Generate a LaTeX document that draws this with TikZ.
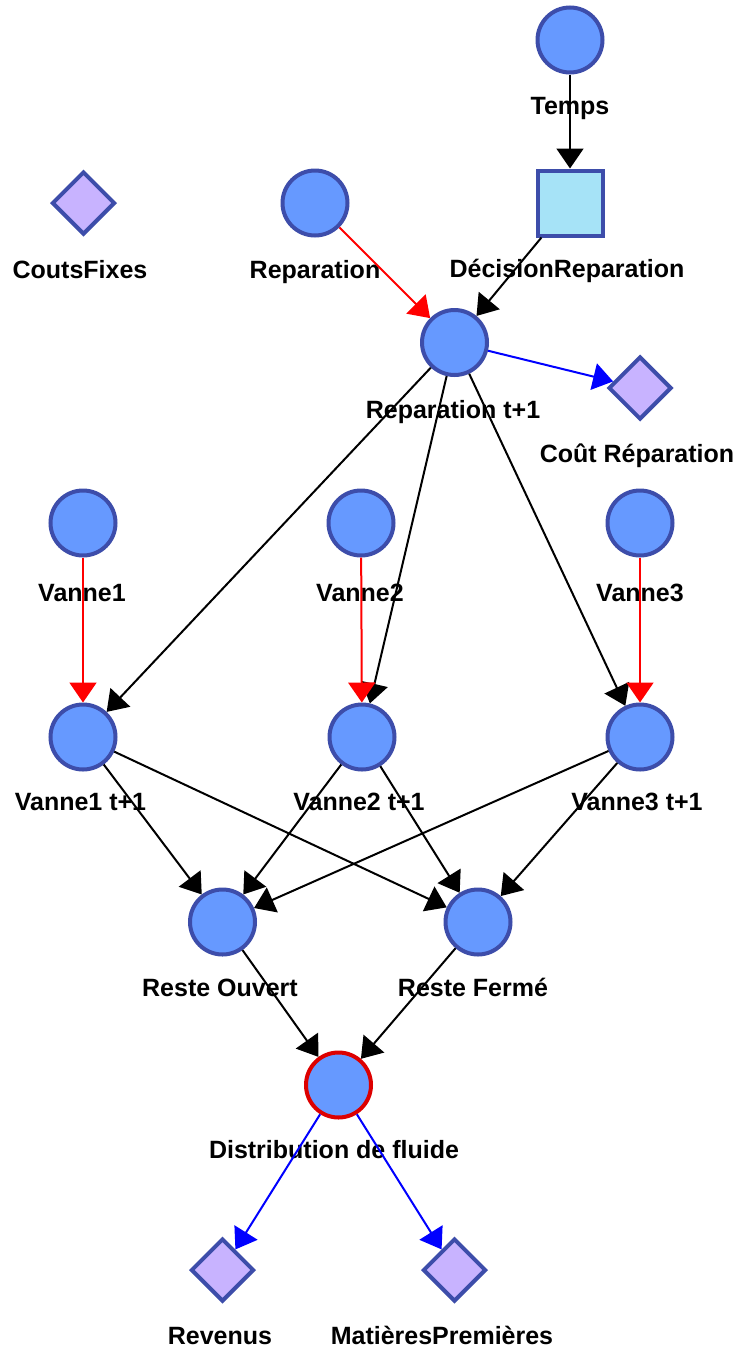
\documentclass[tikz,border=0pt]{standalone}
\usepackage{fontspec}
\setmainfont{Liberation Sans}
\usetikzlibrary{arrows.meta,shapes.geometric}
\definecolor{nfill}{HTML}{6699FF}
\definecolor{nborder}{HTML}{3D4DAA}
\definecolor{dfill}{HTML}{C8B3FF}
\definecolor{sfill}{HTML}{A6E3F7}
\definecolor{dred}{HTML}{DD0000}
\tikzset{
  chance/.style={circle,draw=nborder,fill=nfill,line width=4pt,minimum size=65pt,inner sep=0pt},
  util/.style={diamond,draw=nborder,fill=dfill,line width=4pt,minimum size=63pt,inner sep=0pt},
  decis/.style={rectangle,draw=nborder,fill=sfill,line width=4pt,minimum size=65pt,inner sep=0pt},
  lbl/.style={anchor=base,font=\fontsize{25pt}{30pt}\selectfont\bfseries,inner sep=0pt},
  blk/.style={draw=black,line width=2pt,-{Triangle[length=20pt,width=27pt]}},
  redl/.style={draw=red,line width=2pt,-{Triangle[length=20pt,width=27pt]}},
  bluel/.style={draw=blue,line width=2pt,-{Triangle[length=20pt,width=27pt]}},
}
\begin{document}
\begin{tikzpicture}[x=1pt,y=-1pt]
\useasboundingbox (0,0) rectangle (739,1352);
\fill[white] (0,0) rectangle (739,1352);
% nodes
\node[chance] (temps) at (570,40) {};
\node[decis] (dec) at (570,203) {};
\node[util] (cf) at (83.5,203) {};
\node[chance] (rep) at (315,203) {};
\node[chance] (rept) at (454.5,342.5) {};
\node[util] (cout) at (640,388) {};
\node[chance] (v1) at (83,523) {};
\node[chance] (v2) at (361,523) {};
\node[chance] (v3) at (640,523) {};
\node[chance] (v1t) at (83,737) {};
\node[chance] (v2t) at (362,737) {};
\node[chance] (v3t) at (640,737) {};
\node[chance] (ro) at (222.5,922) {};
\node[chance] (rf) at (478,922) {};
\node[chance,draw=dred] (dist) at (338.5,1085) {};
\node[util] (rev) at (222.5,1270) {};
\node[util] (mp) at (454.5,1270) {};
% labels
\node[lbl] (tempsL) at (570,114) {Temps};
\node[lbl] (decL) at (567,277) {DécisionReparation};
\node[lbl] (cfL) at (80,278) {CoutsFixes};
\node[lbl] (repL) at (315,278) {Reparation};
\node[lbl] (reptL) at (453,418) {Reparation t+1};
\node[lbl] (coutL) at (637,462) {Coût Réparation};
\node[lbl] (v1L) at (82,601) {Vanne1};
\node[lbl] (v2L) at (360,601) {Vanne2};
\node[lbl] (v3L) at (640,601) {Vanne3};
\node[lbl] (v1tL) at (80.5,810) {Vanne1 t+1};
\node[lbl] (v2tL) at (359,810) {Vanne2 t+1};
\node[lbl] (v3tL) at (637,810) {Vanne3 t+1};
\node[lbl] (roL) at (220,996) {Reste Ouvert};
\node[lbl] (rfL) at (473,996) {Reste Fermé};
\node[lbl] (distL) at (334,1158) {Distribution de fluide};
\node[lbl] (revL) at (220,1344) {Revenus};
\node[lbl] (mpL) at (442,1344) {MatièresPremières};
% edges
\draw[blk] (temps) -- (dec);
\draw[blk] (dec) -- (rept);
\draw[redl] (rep) -- (rept);
\draw[bluel] (rept) -- (cout);
\draw[blk] (rept) -- (v1t);
\draw[blk] (rept) -- (v2t);
\draw[blk] (rept) -- (v3t);
\draw[redl] (v1) -- (v1t);
\draw[redl] (v2) -- (v2t);
\draw[redl] (v3) -- (v3t);
\draw[blk] (v1t) -- (ro);
\draw[blk] (v1t) -- (rf);
\draw[blk] (v2t) -- (ro);
\draw[blk] (v2t) -- (rf);
\draw[blk] (v3t) -- (ro);
\draw[blk] (v3t) -- (rf);
\draw[blk] (ro) -- (dist);
\draw[blk] (rf) -- (dist);
\draw[bluel] (dist) -- (rev);
\draw[bluel] (dist) -- (mp);
\end{tikzpicture}
\end{document}
